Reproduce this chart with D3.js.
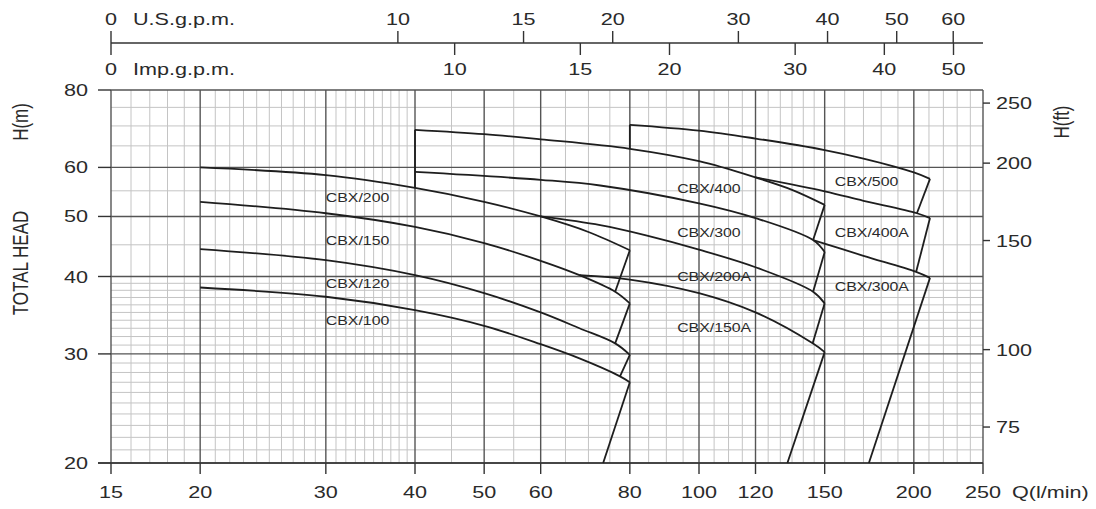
<!DOCTYPE html>
<html>
<head>
<meta charset="utf-8">
<script src="https://cdn.jsdelivr.net/npm/d3@7"></script>
<style>
  body { margin: 0; background: #fff; }
  svg { display: block; }
  text { font-family: "Liberation Sans", Arial, sans-serif; fill: #2a2a2a; }
</style>
</head>
<body>
<svg id="chart"></svg>
<script>
// flow axis (l/min) and head axis (m)
const qTicks = [15, 20, 30, 40, 50, 60, 80, 100, 120, 150, 200, 250];
const qMinor = [16, 17, 18, 19, 21, 22, 23, 24, 25, 26, 27, 28, 29,
  31, 32, 33, 34, 35, 36, 37, 38, 39, 45, 55, 65, 70, 75, 85, 90, 95,
  105, 110, 115, 125, 130, 135, 140, 145, 160, 170, 180, 190, 210, 220, 230, 240];
const hTicks = [20, 30, 40, 50, 60, 80];
const hMinor = [21, 22, 23, 24, 25, 26, 27, 28, 29,
  31, 32, 33, 34, 35, 36, 37, 38, 39, 45, 55, 65, 70, 75];
const ftTicks = [75, 100, 150, 200, 250];
const usTicks = [10, 15, 20, 30, 40, 50, 60];
const impTicks = [10, 15, 20, 30, 40, 50];

// pump curves [Q l/min, H m]
const cbx100 = [[20, 38.4], [30, 37.1], [40, 35.3], [50, 33.3], [60, 31.1], [68, 29.5], [77.5, 27.6], [80, 27.0]];
const cbx120 = [[20, 44.3], [30, 42.5], [40, 40.2], [50, 37.6], [60, 35.0], [68, 33.0], [76.3, 31.2], [80, 29.9]];
const cbx150 = [[20, 52.8], [30, 50.6], [40, 48.1], [50, 45.3], [60, 42.4], [68, 40.2], [76.3, 37.8], [80, 36.2]];
const cbx200 = [[20, 60], [30, 58.3], [40, 55.6], [50, 52.8], [60, 50], [70, 47.2], [80, 44.1]];
const cbx400 = [[40, 69.0], [50, 67.9], [60, 66.6], [80, 64.3], [100, 61.4], [120, 57.8], [135, 55.2], [150, 52.2]];
const cbx300 = [[40, 59.0], [60, 57.3], [72.7, 56.1], [100, 52.5], [120, 49.7], [144.5, 45.8], [150, 43.8]];
const cbx200A = [[60, 50], [72.7, 48.4], [84.3, 46.6], [100, 44.2], [120, 41.4], [144.5, 37.8], [150, 36.2]];
const cbx150A = [[68, 40.2], [80, 39.55], [100, 37.6], [120, 35.0], [144.3, 31.2], [150, 30.2]];
const cbx500 = [[80, 70.3], [100, 68.8], [120, 66.8], [150, 64.0], [170, 62.0], [200, 58.9], [210.7, 57.5]];
const cbx400A = [[120, 57.8], [150, 54.9], [170, 53.0], [202, 50.6], [210.7, 49.7]];
const cbx300A = [[144.5, 45.8], [170, 43.2], [201.5, 40.7], [210.7, 39.8]];
const pumpCurves = [cbx100, cbx120, cbx150, cbx200, cbx400, cbx300, cbx200A, cbx150A, cbx500, cbx400A, cbx300A];

// straight limit lines: start boxes and end ties
const startLines = [
  [[40, 55.6], [40, 69.0]],
  [[80, 64.3], [80, 70.3]]
];
const tieLines = [
  [[80, 44.1], [76.3, 37.8]],
  [[80, 36.2], [76.3, 31.2]],
  [[80, 29.9], [77.5, 27.6]],
  [[80, 27.0], [73.4, 20]],
  [[150, 52.2], [144.5, 45.8]],
  [[150, 43.8], [144.5, 37.8]],
  [[150, 36.2], [144.3, 31.2]],
  [[150, 30.2], [133, 20]],
  [[210.7, 57.5], [202, 50.6]],
  [[210.7, 49.7], [201.5, 40.7]],
  [[210.7, 39.8], [173, 20]]
];

const curveNames = ["CBX/200", "CBX/150", "CBX/120", "CBX/100",
  "CBX/400", "CBX/300", "CBX/200A", "CBX/150A", "CBX/500", "CBX/400A", "CBX/300A"];
const labelQ = [30, 30, 30, 30, 93.2, 93.2, 93.2, 93.2, 155, 155, 155];
const labelH = [52.8, 45.0, 38.3, 33.4, 54.6, 46.4, 39.3, 32.6, 55.9, 46.4, 37.9];

const width = 1096, height = 509;
const SX = 1.27; // the source lettering is stretched sideways

const svg = d3.select("#chart").attr("width", width).attr("height", height);

const x = d3.scaleLog().domain([15, 250]).range([111, 983]);
const y = d3.scaleLog().domain([20, 80]).range([463, 90]);

function stext(g, px, py, str, size, anchor, rot) {
  return g.append("text")
    .attr("transform", `translate(${px},${py}) scale(${SX},1)` + (rot ? ` rotate(${rot})` : ""))
    .attr("text-anchor", anchor || "start")
    .attr("font-size", size)
    .text(str);
}

// grid
const grid = svg.append("g");
grid.selectAll(".vmin").data(qMinor).join("line")
  .attr("x1", d => x(d)).attr("x2", d => x(d))
  .attr("y1", y(80)).attr("y2", y(20))
  .attr("stroke", "#c4c4c4").attr("stroke-width", 1);
grid.selectAll(".hmin").data(hMinor).join("line")
  .attr("x1", x(15)).attr("x2", x(250))
  .attr("y1", d => y(d)).attr("y2", d => y(d))
  .attr("stroke", "#c4c4c4").attr("stroke-width", 1);
grid.selectAll(".vmaj").data(qTicks).join("line")
  .attr("x1", d => x(d)).attr("x2", d => x(d))
  .attr("y1", y(80)).attr("y2", y(20))
  .attr("stroke", "#555").attr("stroke-width", 1.4);
grid.selectAll(".hmaj").data(hTicks).join("line")
  .attr("x1", x(15)).attr("x2", x(250))
  .attr("y1", d => y(d)).attr("y2", d => y(d))
  .attr("stroke", "#555").attr("stroke-width", 1.4);

// axes
const axis = svg.append("g").attr("stroke", "#333").attr("stroke-width", 1.4);
axis.append("line").attr("x1", 98).attr("x2", x(250)).attr("y1", y(20)).attr("y2", y(20));
axis.selectAll(".bt").data(qTicks).join("line")
  .attr("x1", d => x(d)).attr("x2", d => x(d)).attr("y1", y(20)).attr("y2", y(20) + 11);
axis.selectAll(".lt").data(hTicks).join("line")
  .attr("x1", 98).attr("x2", x(15)).attr("y1", d => y(d)).attr("y2", d => y(d));
axis.selectAll(".rt").data(ftTicks).join("line")
  .attr("x1", x(250)).attr("x2", x(250) + 7)
  .attr("y1", d => y(d * 0.3048)).attr("y2", d => y(d * 0.3048));

const labels = svg.append("g");
qTicks.forEach(d => stext(labels, x(d), 498, d, 17, "middle"));
stext(labels, x(250) + 29, 498, "Q(l/min)", 17, "start");
hTicks.forEach(d => stext(labels, 88, y(d) + 6, d, 17, "end"));
ftTicks.forEach(d => stext(labels, 996, y(d * 0.3048) + 6, d, 17, "start"));
stext(labels, 28, 122, "H(m)", 17, "middle", -90);
stext(labels, 28, 263, "TOTAL HEAD", 17, "middle", -90);
stext(labels, 1069, 122, "H(ft)", 17, "middle", -90);

// top gpm scales
const topY = 43;
const gpm = svg.append("g").attr("stroke", "#333").attr("stroke-width", 1.4);
gpm.append("line").attr("x1", x(15)).attr("x2", x(250)).attr("y1", topY).attr("y2", topY);
gpm.append("line").attr("x1", x(15)).attr("x2", x(15)).attr("y1", topY - 12).attr("y2", topY + 12);
gpm.selectAll(".us").data(usTicks).join("line")
  .attr("x1", d => x(d * 3.785)).attr("x2", d => x(d * 3.785))
  .attr("y1", topY - 12).attr("y2", topY);
gpm.selectAll(".imp").data(impTicks).join("line")
  .attr("x1", d => x(d * 4.546)).attr("x2", d => x(d * 4.546))
  .attr("y1", topY).attr("y2", topY + 12);
stext(labels, x(15), 25, "0", 17, "middle");
stext(labels, 133, 25, "U.S.g.p.m.", 17, "start");
usTicks.forEach(d => stext(labels, x(d * 3.785), 25, d, 17, "middle"));
stext(labels, x(15), 75, "0", 17, "middle");
stext(labels, 133, 75, "Imp.g.p.m.", 17, "start");
impTicks.forEach(d => stext(labels, x(d * 4.546), 75, d, 17, "middle"));

// pump curves
const line = d3.line().x(d => x(d[0])).y(d => y(d[1]));
const smooth = d3.line().x(d => x(d[0])).y(d => y(d[1])).curve(d3.curveCatmullRom.alpha(0.5));
const marks = svg.append("g").attr("fill", "none").attr("stroke", "#1e1e1e").attr("stroke-width", 1.8)
  .attr("stroke-linejoin", "round");
pumpCurves.forEach(c => marks.append("path").attr("d", smooth(c)));
startLines.concat(tieLines).forEach(s => marks.append("path").attr("d", line(s)));

curveNames.forEach((n, i) => stext(labels, x(labelQ[i]), y(labelH[i]), n, 12.5, "start"));
</script>
</body>
</html>
